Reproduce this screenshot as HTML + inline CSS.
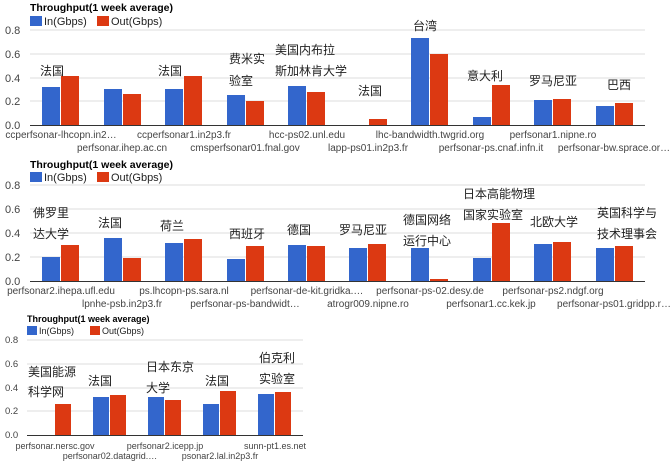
<!DOCTYPE html>
<html><head><meta charset="utf-8"><style>
html,body{margin:0;padding:0;background:#fff;width:670px;height:461px;overflow:hidden}
svg{display:block}
text{font-family:"Liberation Sans","Noto Sans CJK SC",sans-serif}
.t{font-weight:bold;font-size:10.5px;fill:#000}
.l{font-size:11px;fill:#222}
.a{font-size:11px;fill:#444}
.x{font-size:10px;fill:#444}
.c{font-size:12px;fill:#222}
.s .t{font-size:9px}.s .l{font-size:9px}.s .a{font-size:9.5px}.s .x{font-size:9px}
</style></head><body>
<svg width="670" height="461" viewBox="0 0 670 461" xmlns="http://www.w3.org/2000/svg">
<!-- Chart 1 -->
<g>
<text class="t" x="30" y="11">Throughput(1 week average)</text>
<rect x="30" y="16" width="12" height="10" fill="#3366cc"/><text class="l" x="44" y="25">In(Gbps)</text>
<rect x="97" y="16" width="12" height="10" fill="#dc3912"/><text class="l" x="111" y="25">Out(Gbps)</text>
<g stroke="#ddd"><line x1="30" x2="645" y1="30" y2="30"/><line x1="30" x2="645" y1="54" y2="54"/><line x1="30" x2="645" y1="78" y2="78"/><line x1="30" x2="645" y1="101" y2="101"/></g>
<g class="a"><text x="5" y="34">0.8</text><text x="5" y="58">0.6</text><text x="5" y="82">0.4</text><text x="5" y="105">0.2</text><text x="5" y="129">0.0</text></g>
<g>
<rect x="42" y="87" width="18" height="38" fill="#3366cc"/><rect x="61" y="76" width="18" height="49" fill="#dc3912"/>
<rect x="104" y="89" width="18" height="36" fill="#3366cc"/><rect x="123" y="94" width="18" height="31" fill="#dc3912"/>
<rect x="165" y="89" width="18" height="36" fill="#3366cc"/><rect x="184" y="76" width="18" height="49" fill="#dc3912"/>
<rect x="227" y="95" width="18" height="30" fill="#3366cc"/><rect x="246" y="101" width="18" height="24" fill="#dc3912"/>
<rect x="288" y="86" width="18" height="39" fill="#3366cc"/><rect x="307" y="92" width="18" height="33" fill="#dc3912"/>
<rect x="369" y="119" width="18" height="6" fill="#dc3912"/>
<rect x="411" y="38" width="18" height="87" fill="#3366cc"/><rect x="430" y="54" width="18" height="71" fill="#dc3912"/>
<rect x="473" y="117" width="18" height="8" fill="#3366cc"/><rect x="492" y="85" width="18" height="40" fill="#dc3912"/>
<rect x="534" y="100" width="18" height="25" fill="#3366cc"/><rect x="553" y="99" width="18" height="26" fill="#dc3912"/>
<rect x="596" y="106" width="18" height="19" fill="#3366cc"/><rect x="615" y="103" width="18" height="22" fill="#dc3912"/>
</g>
<line x1="30" x2="645" y1="125.5" y2="125.5" stroke="#333"/>
<g class="x" text-anchor="middle">
<text x="61" y="138">ccperfsonar-lhcopn.in2…</text><text x="122" y="151">perfsonar.ihep.ac.cn</text>
<text x="184" y="138">ccperfsonar1.in2p3.fr</text><text x="245" y="151">cmsperfsonar01.fnal.gov</text>
<text x="307" y="138">hcc-ps02.unl.edu</text><text x="368" y="151">lapp-ps01.in2p3.fr</text>
<text x="430" y="138">lhc-bandwidth.twgrid.org</text><text x="491" y="151">perfsonar-ps.cnaf.infn.it</text>
<text x="553" y="138">perfsonar1.nipne.ro</text><text x="614" y="151">perfsonar-bw.sprace.or…</text>
</g>
<g class="c">
<text x="40" y="75">法国</text><text x="158" y="75">法国</text>
<text x="229" y="63">费米实</text><text x="229" y="85">验室</text>
<text x="275" y="54">美国内布拉</text><text x="275" y="75">斯加林肯大学</text>
<text x="358" y="95">法国</text><text x="413" y="30">台湾</text>
<text x="467" y="80">意大利</text><text x="529" y="85">罗马尼亚</text><text x="607" y="89">巴西</text>
</g>
</g>
<!-- Chart 2 -->
<g>
<text class="t" x="30" y="168">Throughput(1 week average)</text>
<rect x="30" y="172" width="12" height="10" fill="#3366cc"/><text class="l" x="44" y="181">In(Gbps)</text>
<rect x="97" y="172" width="12" height="10" fill="#dc3912"/><text class="l" x="111" y="181">Out(Gbps)</text>
<g stroke="#ddd"><line x1="30" x2="645" y1="185" y2="185"/><line x1="30" x2="645" y1="209" y2="209"/><line x1="30" x2="645" y1="233" y2="233"/><line x1="30" x2="645" y1="257" y2="257"/></g>
<g class="a"><text x="5" y="189">0.8</text><text x="5" y="213">0.6</text><text x="5" y="237">0.4</text><text x="5" y="261">0.2</text><text x="5" y="285">0.0</text></g>
<g>
<rect x="42" y="257" width="18" height="24" fill="#3366cc"/><rect x="61" y="245" width="18" height="36" fill="#dc3912"/>
<rect x="104" y="238" width="18" height="43" fill="#3366cc"/><rect x="123" y="258" width="18" height="23" fill="#dc3912"/>
<rect x="165" y="243" width="18" height="38" fill="#3366cc"/><rect x="184" y="239" width="18" height="42" fill="#dc3912"/>
<rect x="227" y="259" width="18" height="22" fill="#3366cc"/><rect x="246" y="246" width="18" height="35" fill="#dc3912"/>
<rect x="288" y="245" width="18" height="36" fill="#3366cc"/><rect x="307" y="246" width="18" height="35" fill="#dc3912"/>
<rect x="349" y="248" width="18" height="33" fill="#3366cc"/><rect x="368" y="244" width="18" height="37" fill="#dc3912"/>
<rect x="411" y="248" width="18" height="33" fill="#3366cc"/><rect x="430" y="279" width="18" height="2" fill="#dc3912"/>
<rect x="473" y="258" width="18" height="23" fill="#3366cc"/><rect x="492" y="223" width="18" height="58" fill="#dc3912"/>
<rect x="534" y="244" width="18" height="37" fill="#3366cc"/><rect x="553" y="242" width="18" height="39" fill="#dc3912"/>
<rect x="596" y="248" width="18" height="33" fill="#3366cc"/><rect x="615" y="246" width="18" height="35" fill="#dc3912"/>
</g>
<line x1="30" x2="645" y1="281.5" y2="281.5" stroke="#333"/>
<g class="x" text-anchor="middle">
<text x="61" y="294">perfsonar2.ihepa.ufl.edu</text><text x="122" y="307">lpnhe-psb.in2p3.fr</text>
<text x="184" y="294">ps.lhcopn-ps.sara.nl</text><text x="245" y="307">perfsonar-ps-bandwidt…</text>
<text x="307" y="294">perfsonar-de-kit.gridka.…</text><text x="368" y="307">atrogr009.nipne.ro</text>
<text x="430" y="294">perfsonar-ps-02.desy.de</text><text x="491" y="307">perfsonar1.cc.kek.jp</text>
<text x="553" y="294">perfsonar-ps2.ndgf.org</text><text x="614" y="307">perfsonar-ps01.gridpp.r…</text>
</g>
<g class="c">
<text x="33" y="217">佛罗里</text><text x="33" y="238">达大学</text>
<text x="98" y="227">法国</text><text x="160" y="230">荷兰</text><text x="229" y="238">西班牙</text>
<text x="287" y="234">德国</text><text x="339" y="234">罗马尼亚</text>
<text x="403" y="224">德国网络</text><text x="403" y="245">运行中心</text>
<text x="463" y="198">日本高能物理</text><text x="463" y="219">国家实验室</text>
<text x="530" y="226">北欧大学</text>
<text x="597" y="217">英国科学与</text><text x="597" y="238">技术理事会</text>
</g>
</g>
<!-- Chart 3 -->
<g class="s">
<text class="t" x="27" y="322">Throughput(1 week average)</text>
<rect x="27" y="326" width="10" height="9" fill="#3366cc"/><text class="l" x="39" y="334">In(Gbps)</text>
<rect x="90" y="326" width="10" height="9" fill="#dc3912"/><text class="l" x="102" y="334">Out(Gbps)</text>
<g stroke="#ddd"><line x1="27" x2="303" y1="340" y2="340"/><line x1="27" x2="303" y1="364" y2="364"/><line x1="27" x2="303" y1="388" y2="388"/><line x1="27" x2="303" y1="411" y2="411"/></g>
<g class="a"><text x="5" y="343">0.8</text><text x="5" y="367">0.6</text><text x="5" y="391">0.4</text><text x="5" y="414">0.2</text><text x="5" y="438">0.0</text></g>
<g>
<rect x="55" y="404" width="16" height="31" fill="#dc3912"/>
<rect x="93" y="397" width="16" height="38" fill="#3366cc"/><rect x="110" y="395" width="16" height="40" fill="#dc3912"/>
<rect x="148" y="397" width="16" height="38" fill="#3366cc"/><rect x="165" y="400" width="16" height="35" fill="#dc3912"/>
<rect x="203" y="404" width="16" height="31" fill="#3366cc"/><rect x="220" y="391" width="16" height="44" fill="#dc3912"/>
<rect x="258" y="394" width="16" height="41" fill="#3366cc"/><rect x="275" y="392" width="16" height="43" fill="#dc3912"/>
</g>
<line x1="27" x2="303" y1="435.5" y2="435.5" stroke="#333"/>
<g class="x" text-anchor="middle">
<text x="55" y="449">perfsonar.nersc.gov</text><text x="110" y="459">perfsonar02.datagrid.…</text>
<text x="165" y="449">perfsonar2.icepp.jp</text><text x="220" y="459">psonar2.lal.in2p3.fr</text>
<text x="275" y="449">sunn-pt1.es.net</text>
</g>
<g class="c">
<text x="28" y="376">美国能源</text><text x="28" y="396">科学网</text>
<text x="88" y="385">法国</text>
<text x="146" y="371">日本东京</text><text x="146" y="392">大学</text>
<text x="205" y="385">法国</text>
<text x="259" y="362">伯克利</text><text x="259" y="383">实验室</text>
</g>
</g>
</svg>
</body></html>
